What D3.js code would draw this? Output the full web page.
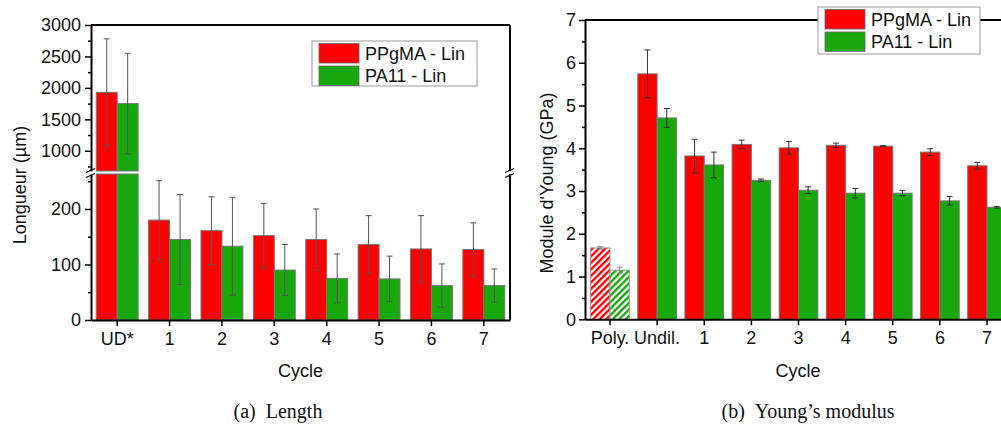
<!DOCTYPE html>
<html lang="en">
<head>
	<meta charset="UTF-8"/>
	<title>Length and Young's modulus per cycle</title>
	<script src="https://d3js.org/d3.v7.min.js"></script>
	<style>
		body { margin:0; background:#fff; }
		svg text { font-family: "Liberation Sans", Arial, sans-serif; fill:#111; }
		svg text.caption { font-family: "Liberation Serif", "Times New Roman", serif; }
	</style>
</head>
<body>
<script>
	// ---------------- data ----------------
	var seriesNames = ["PPgMA - Lin", "PA11 - Lin"];
	var seriesColors = ["#ff0000", "#18a80b"];

	var lenCats  = ["UD*","1","2","3","4","5","6","7"];
	var lenPP    = [1930,180,161,152,145,136,128,127];
	var lenPPErr = [850,71,61,58,55,52,60,48];
	var lenPA    = [1750,145,133,90,75,74,62,62];
	var lenPAErr = [800,81,88,46,44,41,39,30];

	var modCats  = ["Poly.","Undil.","1","2","3","4","5","6","7"];
	var modPP    = [1.67,5.74,3.82,4.09,4.01,4.07,4.05,3.91,3.59];
	var modPPErr = [0.03,0.56,0.39,0.10,0.15,0.05,0.01,0.08,0.08];
	var modPA    = [1.15,4.71,3.61,3.25,3.02,2.95,2.95,2.77,2.62];
	var modPAErr = [0.07,0.22,0.30,0.03,0.08,0.11,0.06,0.10,0.02];

	var w = 1001, h = 425;
	var svg = d3.select("body").append("svg")
				.attr("width", w)
				.attr("height", h);
	svg.append("rect").attr("width", w).attr("height", h).attr("fill", "white");

	// hatch patterns for the "Poly." bars
	var defs = svg.append("defs");
	seriesColors.forEach(function(c, i){
		var p = defs.append("pattern")
			.attr("id", "hatch" + i)
			.attr("patternUnits", "userSpaceOnUse")
			.attr("width", 4.6).attr("height", 4.6)
			.attr("patternTransform", "rotate(45)");
		p.append("rect").attr("width", 4.6).attr("height", 4.6).attr("fill", "white");
		p.append("line").attr("x1", 1.2).attr("y1", 0).attr("x2", 1.2).attr("y2", 4.6)
			.attr("stroke", c).attr("stroke-width", 2.4);
	});

	function styleAxis(g, fs) {
		g.attr("font-size", fs).attr("font-family", null);
		g.select(".domain").attr("stroke", "#000").attr("stroke-width", 2);
		g.selectAll(".tick line").attr("stroke", "#000").attr("stroke-width", 1.5);
		g.selectAll(".tick text").attr("fill", "#111");
	}

	function errBar(g, x, yTop, yBot, col) {
		g.append("line").attr("x1", x).attr("x2", x).attr("y1", yTop).attr("y2", yBot)
			.attr("stroke", col).attr("stroke-width", 1);
		[yTop, yBot].forEach(function(y){
			g.append("line").attr("x1", x - 3).attr("x2", x + 3).attr("y1", y).attr("y2", y)
				.attr("stroke", col).attr("stroke-width", 1);
		});
	}

	function breakMark(g, x, y) {
		[y - 2, y + 3].forEach(function(yy){
			g.append("line").attr("x1", x - 5).attr("y1", yy + 2).attr("x2", x + 4).attr("y2", yy - 2)
				.attr("stroke", "#000").attr("stroke-width", 1.2);
		});
	}

	function legend(g, x, y, bw, bh) {
		g.append("rect").attr("x", x).attr("y", y).attr("width", bw).attr("height", bh)
			.attr("fill", "white").attr("stroke", "#999").attr("stroke-width", 1);
		seriesNames.forEach(function(n, i){
			g.append("rect").attr("x", x + 7).attr("y", y + 2.5 + i * 22.5)
				.attr("width", 40).attr("height", 19.5)
				.attr("fill", seriesColors[i]).attr("stroke", "#666").attr("stroke-width", 0.8);
			g.append("text").attr("x", x + 53).attr("y", y + 18.5 + i * 22.5)
				.attr("font-size", 18).text(n);
		});
	}

	var fmt = d3.format("d");

	//---------------- (a) Length ----------------
	var la = svg.append("g");
	var xL = d3.scaleBand().domain(lenCats).range([91, 510]).paddingInner(0.2).paddingOuter(0.1);
	var yLow = d3.scaleLinear().domain([0, 263]).range([320, 174]);
	var yHigh = d3.scaleLinear().domain([678, 3000]).range([171, 25]);
	var bwL = xL.bandwidth() / 2;

	[lenPP, lenPA].forEach(function(vals, s){
		var errs = s === 0 ? lenPPErr : lenPAErr;
		vals.forEach(function(v, i){
			var x0 = xL(lenCats[i]) + s * bwL;
			var lowTop = yLow(Math.min(v, 263));
			la.append("rect").attr("x", x0).attr("y", lowTop)
				.attr("width", bwL).attr("height", 320 - lowTop)
				.attr("fill", seriesColors[s]).attr("stroke", "#777").attr("stroke-width", 1);
			var ys = yLow;
			if (v > 263) {
				ys = yHigh;
				la.append("rect").attr("x", x0).attr("y", yHigh(v))
					.attr("width", bwL).attr("height", 171 - yHigh(v))
					.attr("fill", seriesColors[s]).attr("stroke", "#777").attr("stroke-width", 1);
			}
			errBar(la, x0 + bwL / 2, ys(v + errs[i]), ys(v - errs[i]), "#555");
		});
	});

	// axes
	var gLow = la.append("g").attr("transform", "translate(91,0)")
		.call(d3.axisLeft(yLow).tickValues([0,100,200]).tickFormat(fmt).tickSize(6).tickPadding(4).tickSizeOuter(0));
	styleAxis(gLow, 18);
	la.append("g").attr("transform", "translate(91,0)")
		.call(d3.axisLeft(yLow).tickValues([50,150,250]).tickSize(3).tickFormat("").tickSizeOuter(0))
		.call(function(g){ g.select(".domain").remove(); g.selectAll("line").attr("stroke", "#000").attr("stroke-width", 1.5); });
	var gHigh = la.append("g").attr("transform", "translate(91,0)")
		.call(d3.axisLeft(yHigh).tickValues([1000,1500,2000,2500,3000]).tickFormat(fmt).tickSize(6).tickPadding(4).tickSizeOuter(0));
	styleAxis(gHigh, 18);
	la.append("g").attr("transform", "translate(91,0)")
		.call(d3.axisLeft(yHigh).tickValues([750,1250,1750,2250,2750]).tickSize(3).tickFormat("").tickSizeOuter(0))
		.call(function(g){ g.select(".domain").remove(); g.selectAll("line").attr("stroke", "#000").attr("stroke-width", 1.5); });

	var gxL = la.append("g").attr("transform", "translate(0,320)")
		.call(d3.axisBottom(xL).tickSize(6).tickPadding(6).tickSizeOuter(0));
	styleAxis(gxL, 18);

	// frame
	la.append("line").attr("x1", 91).attr("x2", 510).attr("y1", 25).attr("y2", 25)
		.attr("stroke", "#000").attr("stroke-width", 2);
	la.append("line").attr("x1", 510).attr("x2", 510).attr("y1", 25).attr("y2", 171)
		.attr("stroke", "#000").attr("stroke-width", 2);
	la.append("line").attr("x1", 510).attr("x2", 510).attr("y1", 174).attr("y2", 320)
		.attr("stroke", "#000").attr("stroke-width", 2);
	breakMark(la, 91, 172.5);
	breakMark(la, 510, 172.5);

	la.append("text").attr("transform", "translate(26,185) rotate(-90)")
		.attr("text-anchor", "middle").attr("font-size", 18).text("Longueur (µm)");
	la.append("text").attr("x", 300.5).attr("y", 377)
		.attr("text-anchor", "middle").attr("font-size", 18).text("Cycle");
	legend(la, 312, 41, 165, 45);

	//---------------- (b) Young's modulus ----------------
	var rb = svg.append("g");
	var xR = d3.scaleBand().domain(modCats).range([585, 1012]).paddingInner(0.18).paddingOuter(0.12);
	var yR = d3.scaleLinear().domain([0, 7]).range([319.3, 20]);
	var bwR = xR.bandwidth() / 2;

	[modPP, modPA].forEach(function(vals, s){
		var errs = s === 0 ? modPPErr : modPAErr;
		rb.selectAll(null)
			.data(vals)
			.enter()
			.append("rect")
			.attr("x", function(d, i){ return xR(modCats[i]) + s * bwR; })
			.attr("y", function(d){ return yR(d); })
			.attr("width", bwR)
			.attr("height", function(d){ return yR(0) - yR(d); })
			.attr("fill", function(d, i){ return i === 0 ? "url(#hatch" + s + ")" : seriesColors[s]; })
			.attr("stroke", function(d, i){ return i === 0 ? "#999" : "#777"; })
			.attr("stroke-width", 1);
		vals.forEach(function(v, i){
			errBar(rb, xR(modCats[i]) + s * bwR + bwR / 2, yR(v + errs[i]), yR(v - errs[i]), i === 0 ? "#888" : "#333");
		});
	});

	var gyR = rb.append("g").attr("transform", "translate(585,0)")
		.call(d3.axisLeft(yR).tickValues(d3.range(0, 8)).tickFormat(fmt).tickSize(6).tickPadding(3).tickSizeOuter(0));
	styleAxis(gyR, 18);
	rb.append("g").attr("transform", "translate(585,0)")
		.call(d3.axisLeft(yR).tickValues(d3.range(0.5, 7, 1)).tickSize(3).tickFormat("").tickSizeOuter(0))
		.call(function(g){ g.select(".domain").remove(); g.selectAll("line").attr("stroke", "#000").attr("stroke-width", 1.5); });

	var gxR = rb.append("g").attr("transform", "translate(0,319.3)")
		.call(d3.axisBottom(xR).tickSize(6).tickPadding(6).tickSizeOuter(0));
	styleAxis(gxR, 18);

	rb.append("line").attr("x1", 585).attr("x2", 1012).attr("y1", 20).attr("y2", 20)
		.attr("stroke", "#000").attr("stroke-width", 2);

	rb.append("text").attr("transform", "translate(553,183) rotate(-90)")
		.attr("text-anchor", "middle").attr("font-size", 18).text("Module d'Young (GPa)");
	rb.append("text").attr("x", 798).attr("y", 377)
		.attr("text-anchor", "middle").attr("font-size", 18).text("Cycle");
	legend(rb, 818, 7, 162, 47);

	//---------------- captions ----------------
	svg.append("text").attr("class", "caption").attr("x", 278).attr("y", 418)
		.attr("text-anchor", "middle").attr("font-size", 20).text("(a)\u2002Length");
	svg.append("text").attr("class", "caption").attr("x", 808).attr("y", 418)
		.attr("text-anchor", "middle").attr("font-size", 20).text("(b)\u2002Young\u2019s modulus");
</script>
</body>
</html>
